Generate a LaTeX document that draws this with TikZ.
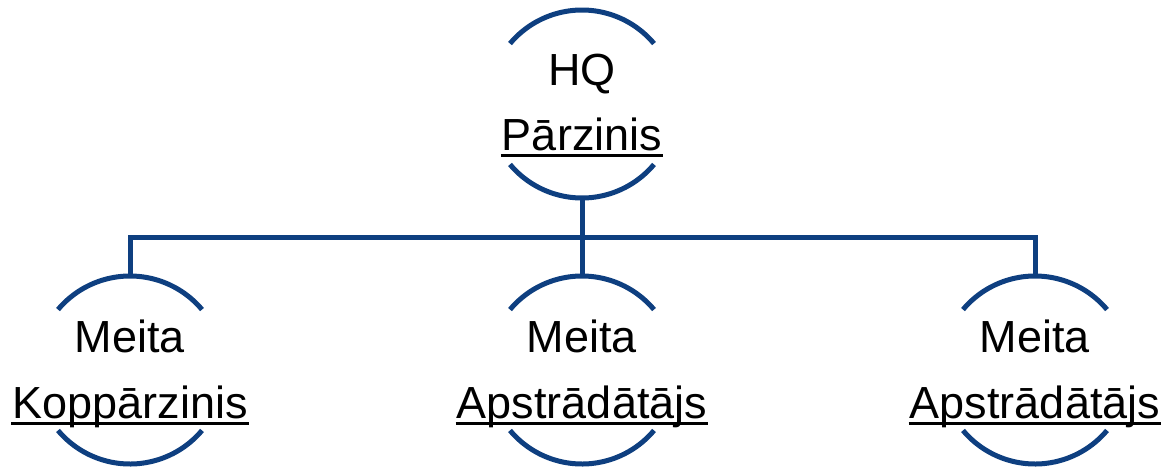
\documentclass[tikz,border=0pt]{standalone}
\usepackage{fontspec}
\setmainfont{Liberation Sans}
\definecolor{navy}{RGB}{14,63,128}
\tikzset{
  arcline/.style={draw=navy, line width=5pt},
  conn/.style={draw=navy, line width=5pt, line join=miter},
  lbl/.style={anchor=base, inner sep=0pt, font=\fontsize{45}{54}\selectfont, text=black},
  uline/.style={draw=black, line width=3.5pt},
}
\begin{document}
\begin{tikzpicture}[x=1pt,y=1pt]
\useasboundingbox (0,0) rectangle (1167,-466);
% unit centres
\coordinate (hqc) at (582,-104);
\coordinate (m1c) at (130,-370);
\coordinate (m2c) at (582,-370);
\coordinate (m3c) at (1035,-370);
% arcs
\foreach \c in {hqc,m1c,m2c,m3c}{
  \draw[arcline] ([shift={(40:94)}]\c) arc[start angle=40, end angle=140, radius=94];
  \draw[arcline] ([shift={(220:94)}]\c) arc[start angle=220, end angle=320, radius=94];
}
\coordinate (hqb) at ([shift={(270:94)}]hqc);
\coordinate (m1t) at ([shift={(90:94)}]m1c);
\coordinate (m2t) at ([shift={(90:94)}]m2c);
\coordinate (m3t) at ([shift={(90:94)}]m3c);
% texts
\node[lbl] (hq1) at (582,-85) {HQ};
\node[lbl] (hq2) at (582,-150) {Pārzinis};
\node[lbl] (a1) at (130,-352) {Meita};
\node[lbl] (a2) at (130,-418) {Koppārzinis};
\node[lbl] (b1) at (582,-352) {Meita};
\node[lbl] (b2) at (582,-418) {Apstrādātājs};
\node[lbl] (c1) at (1035,-352) {Meita};
\node[lbl] (c2) at (1035,-418) {Apstrādātājs};
% underlines
\foreach \n in {hq2,a2,b2,c2}{
  \draw[uline] ([shift={(-1,-5.5)}]\n.base west) -- ([shift={(1,-5.5)}]\n.base east);
}
% connectors
\coordinate (bus) at (0,-237);
\draw[conn] (m1t) -- (m1t |- bus) -- (m3t |- bus) -- (m3t);
\draw[conn] (hqb) -- (m2t);
\end{tikzpicture}
\end{document}
